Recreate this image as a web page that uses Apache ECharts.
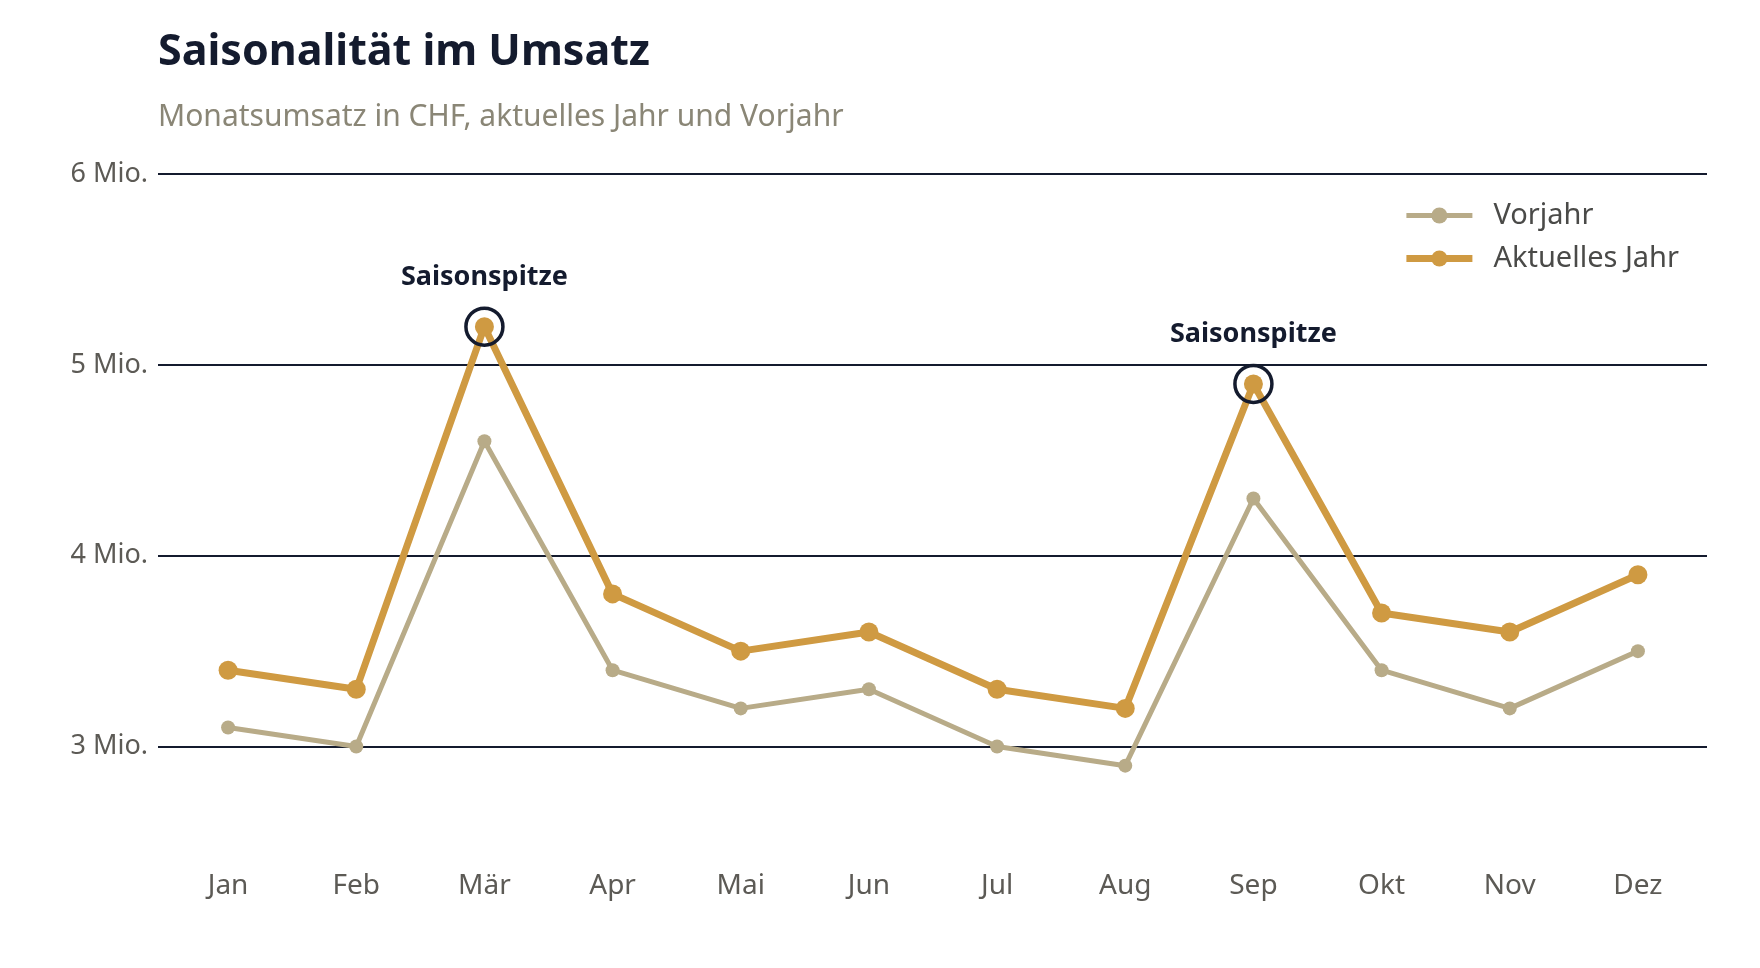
<!DOCTYPE html>
<html>
<head>
<meta charset="utf-8">
<style>
    html, body { margin: 0; padding: 0; background: #fff; }
    #chart { width: 1760px; height: 968px; }
</style>
<script src="https://cdn.jsdelivr.net/npm/echarts@6/dist/echarts.min.js"></script>
</head>
<body>
<div id="chart"></div>
<script>
    // Daten (Mio. CHF)
    var months = ['Jan', 'Feb', 'Mär', 'Apr', 'Mai', 'Jun', 'Jul', 'Aug', 'Sep', 'Okt', 'Nov', 'Dez'];
    var vorjahr = [3.1, 3.0, 4.6, 3.4, 3.2, 3.3, 3.0, 2.9, 4.3, 3.4, 3.2, 3.5];
    var aktuell = [3.4, 3.3, 5.2, 3.8, 3.5, 3.6, 3.3, 3.2, 4.9, 3.7, 3.6, 3.9];
    var peakMonths = ['Mär', 'Sep'];
    var peakLabel = 'Saisonspitze';

    var navy = '#141b2e';
    var gold = '#cf9a42';
    var beige = '#b8ab88';
    var font = 'Noto Sans';

    var chart = echarts.init(document.getElementById('chart'));

    // Markierungen an den Spitzen
    var peaks = peakMonths.map(function (m) {
        var i = months.indexOf(m);
        return { coord: [m, aktuell[i]] };
    });

    var yMin = 2.5, yMax = 6;

    var option = {
        backgroundColor: '#fff',
        textStyle: { fontFamily: font },
        title: {
            text: 'Saisonalität im Umsatz',
            subtext: 'Monatsumsatz in CHF, aktuelles Jahr und Vorjahr',
            left: 153,
            top: 26,
            itemGap: 28,
            textStyle: { fontSize: 43, fontWeight: 'bold', color: navy, fontFamily: font },
            subtextStyle: { fontSize: 30, color: '#8a8676', fontFamily: font }
        },
        legend: {
            orient: 'vertical',
            right: 76,
            top: 196,
            itemWidth: 66,
            itemHeight: 20,
            itemGap: 14,
            textStyle: { fontSize: 29, color: '#4a4a48', fontFamily: font, padding: [0, 0, 0, 16] },
            data: [
                { name: 'Vorjahr', lineStyle: { width: 5 }, itemStyle: { color: beige } },
                { name: 'Aktuelles Jahr', lineStyle: { width: 7 }, itemStyle: { color: gold } }
            ]
        },
        // grid 0: Datenbereich, grid 1: Gitterlinien und y-Beschriftung
        grid: [
            { left: 164, right: 58, top: 174, bottom: 126 },
            { left: 158, right: 53, top: 174, bottom: 126 }
        ],
        xAxis: [
            {
                type: 'category',
                gridIndex: 0,
                data: months,
                boundaryGap: true,
                axisLine: { show: false },
                axisTick: { show: false },
                axisLabel: { fontSize: 28, color: '#5c5a55', margin: 30 }
            },
            { type: 'value', gridIndex: 1, show: false, min: 0, max: 1 }
        ],
        yAxis: [
            {
                type: 'value',
                gridIndex: 0,
                min: yMin,
                max: yMax,
                show: false
            },
            {
                type: 'value',
                gridIndex: 1,
                min: yMin,
                max: yMax,
                interval: 0.5,
                axisLine: { show: false },
                axisTick: { show: false },
                axisLabel: {
                    fontSize: 27,
                    color: '#5c5a55',
                    margin: 10,
                    formatter: function (v) {
                        return Number.isInteger(v) && v >= 3 ? v + ' Mio.' : '';
                    }
                },
                splitLine: {
                    lineStyle: { color: ['rgba(0,0,0,0)', navy], width: 2 }
                }
            }
        ],
        series: [
            {
                name: 'Vorjahr',
                type: 'line',
                data: vorjahr,
                symbol: 'circle',
                symbolSize: 14,
                lineStyle: { width: 5, color: beige },
                itemStyle: { color: beige },
                z: 2
            },
            {
                name: 'Aktuelles Jahr',
                type: 'line',
                data: aktuell,
                symbol: 'circle',
                symbolSize: 19,
                lineStyle: { width: 7, color: gold },
                itemStyle: { color: gold },
                z: 3,
                markPoint: {
                    symbol: 'circle',
                    symbolSize: 37,
                    itemStyle: { color: 'rgba(0,0,0,0)', borderColor: navy, borderWidth: 3.5 },
                    label: {
                        show: true,
                        position: 'top',
                        distance: 16,
                        formatter: peakLabel,
                        fontSize: 27,
                        fontWeight: 'bold',
                        color: navy,
                        fontFamily: font
                    },
                    data: peaks
                }
            }
        ]
    };
    chart.setOption(option);
</script>
</body>
</html>
